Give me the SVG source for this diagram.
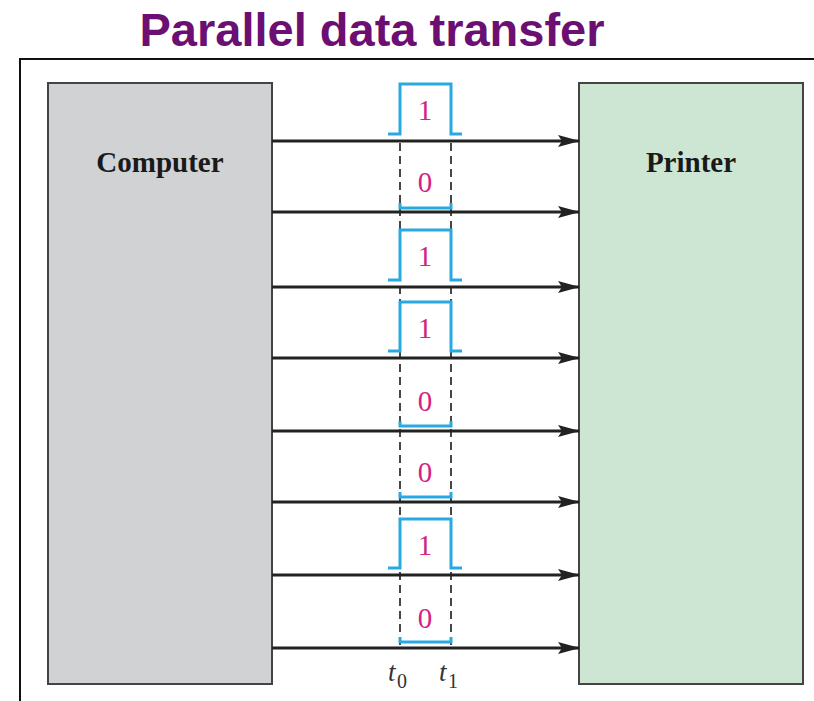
<svg xmlns="http://www.w3.org/2000/svg" width="814" height="701" viewBox="0 0 814 701">
<defs>
<marker id="ah" markerWidth="22" markerHeight="14" refX="21" refY="7" orient="auto" markerUnits="userSpaceOnUse">
<path d="M0,1 L22,7 L0,13 L4,7 Z" fill="#222"/>
</marker>
</defs>
<style>
.title{font-family:"Liberation Sans",Arial,sans-serif;font-weight:bold;font-size:47px;fill:#6b0f73}
.box{stroke:#444;stroke-width:2}
.serif{font-family:'Liberation Serif','Times New Roman',Tinos,'Nimbus Roman',Times,serif}
.lbl{font-weight:bold;font-size:29px;fill:#1a1a1a;text-anchor:middle}
.wire{stroke:#222;stroke-width:3;fill:none}
.dash{stroke:#333;stroke-width:1.8;stroke-dasharray:8,5;fill:none}
.pulse{stroke:#29a9e1;stroke-width:3;fill:none}
.bit{font-size:29px;fill:#d4227f;text-anchor:middle}
.t{font-style:italic;font-size:27px;fill:#333}
.sub{font-size:20px;fill:#333}
</style>
<rect width="814" height="701" fill="#fff"/>
<text class="title" x="372" y="46" text-anchor="middle">Parallel data transfer</text>
<path d="M20,701 V59 H814" stroke="#111" stroke-width="2" fill="none"/>
<g id="computer">
<rect class="box" x="48" y="83" width="224" height="601" fill="#d0d2d4"/>
<text class="serif lbl" x="160" y="172">Computer</text>
</g>
<g id="printer">
<rect class="box" x="579" y="83" width="224" height="601" fill="#cde6d4"/>
<text class="serif lbl" x="691" y="172">Printer</text>
</g>
<g id="timing">
<line class="dash" x1="400" y1="143" x2="400" y2="646"/>
<line class="dash" x1="451" y1="143" x2="451" y2="646"/>
<path class="pulse" d="M388,134 H400 V84 H451 V134 H462"/>
<text class="serif bit" x="425" y="120">1</text>
<path class="pulse" d="M400,203 V208 H451 V203"/>
<text class="serif bit" x="425" y="192">0</text>
<path class="pulse" d="M388,280 H400 V230 H451 V280 H462"/>
<text class="serif bit" x="425" y="266">1</text>
<path class="pulse" d="M388,351 H400 V302 H451 V351 H462"/>
<text class="serif bit" x="425" y="338">1</text>
<path class="pulse" d="M400,421 V426 H451 V421"/>
<text class="serif bit" x="425" y="411">0</text>
<path class="pulse" d="M400,492 V497 H451 V492"/>
<text class="serif bit" x="425" y="482">0</text>
<path class="pulse" d="M388,568 H400 V519 H451 V568 H462"/>
<text class="serif bit" x="425" y="555">1</text>
<path class="pulse" d="M400,637 V642 H451 V637"/>
<text class="serif bit" x="425" y="628">0</text>
<text class="serif t" x="388" y="681">t</text><text class="serif sub" x="397" y="688">0</text>
<text class="serif t" x="439" y="681">t</text><text class="serif sub" x="448" y="688">1</text>
</g>
<g id="connectors">
<line class="wire" x1="272" y1="141" x2="579" y2="141" marker-end="url(#ah)"/>
<line class="wire" x1="272" y1="212" x2="579" y2="212" marker-end="url(#ah)"/>
<line class="wire" x1="272" y1="287" x2="579" y2="287" marker-end="url(#ah)"/>
<line class="wire" x1="272" y1="358" x2="579" y2="358" marker-end="url(#ah)"/>
<line class="wire" x1="272" y1="431" x2="579" y2="431" marker-end="url(#ah)"/>
<line class="wire" x1="272" y1="502" x2="579" y2="502" marker-end="url(#ah)"/>
<line class="wire" x1="272" y1="575" x2="579" y2="575" marker-end="url(#ah)"/>
<line class="wire" x1="272" y1="648" x2="579" y2="648" marker-end="url(#ah)"/>
</g>
</svg>
